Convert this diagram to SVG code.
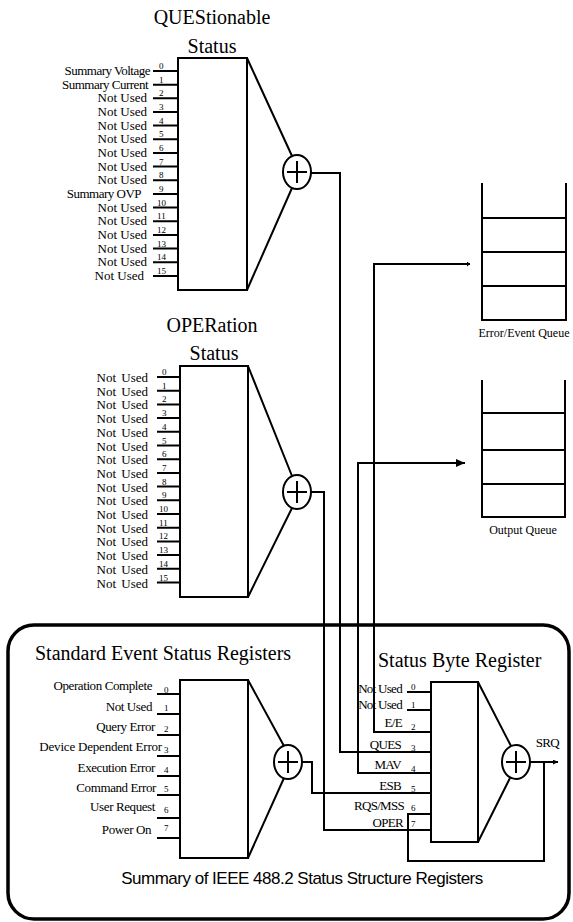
<svg xmlns="http://www.w3.org/2000/svg" width="573" height="922" viewBox="0 0 573 922">
<style>
.ln{stroke:#000;stroke-width:2;fill:none}
.bd{stroke:#000;stroke-width:3.5;fill:none}
.t{font-family:"Liberation Serif","Times New Roman",serif;fill:#000}
.ttl{font-size:20px}
.lb{font-size:13px;text-anchor:end}
.lbc{font-size:13px;text-anchor:end;letter-spacing:-0.5px}
.sb{font-size:13px;text-anchor:end;letter-spacing:-0.7px}
.n{font-size:9px}
.q{font-size:12px;text-anchor:middle}
.sum{font-family:"Liberation Sans",Arial,sans-serif;font-size:17px;letter-spacing:-0.5px;text-anchor:middle;fill:#000}
</style>
<defs>
<marker id="ah" markerUnits="userSpaceOnUse" markerWidth="9" markerHeight="8" refX="9" refY="4" orient="auto"><path d="M0,0 L9,4 L0,8 z" fill="#000"/></marker>
<marker id="ahs" markerUnits="userSpaceOnUse" markerWidth="5" markerHeight="5" refX="5" refY="2.5" orient="auto"><path d="M0,0 L5,2.5 L0,5 z" fill="#000"/></marker>
<marker id="aht" markerUnits="userSpaceOnUse" markerWidth="3" markerHeight="5" refX="3" refY="2.5" orient="auto"><path d="M0,0 L3,2.5 L0,5 z" fill="#000"/></marker>
</defs>

<g id="border">
<rect class="bd" x="8" y="625" width="561" height="294" rx="26"/>
</g>

<g id="ques">
<text class="t ttl" x="212" y="24" text-anchor="middle">QUEStionable</text>
<text class="t ttl" x="212" y="53" text-anchor="middle">Status</text>
<rect class="ln" x="178" y="58" width="69" height="232"/>
<path class="ln" d="M153,71H178M153,84.7H178M153,98.3H178M153,112H178M153,125.6H178M153,139.3H178M153,153H178M153,166.6H178M153,180.3H178M153,194H178M153,207.6H178M153,221.3H178M153,235H178M153,248.6H178M153,262.2H178M153,275.9H178"/>
<path class="ln" d="M247,58L292,156M247,290L292,188"/>
<ellipse class="ln" cx="297" cy="172" rx="14" ry="17"/>
<path class="ln" d="M287,172H307M297,161V183"/>
<text class="t lbc" x="150" y="75">Summary Voltage</text>
<text class="t lbc" x="148" y="88.7">Summary Current</text>
<text class="t lb" x="147" y="102.3">Not Used</text>
<text class="t lb" x="147" y="116">Not Used</text>
<text class="t lb" x="147" y="129.6">Not Used</text>
<text class="t lb" x="147" y="143.3">Not Used</text>
<text class="t lb" x="147" y="157">Not Used</text>
<text class="t lb" x="147" y="170.6">Not Used</text>
<text class="t lb" x="147" y="184.3">Not Used</text>
<text class="t lbc" x="141" y="197.5">Summary OVP</text>
<text class="t lb" x="147" y="211.8">Not Used</text>
<text class="t lb" x="147" y="225.3">Not Used</text>
<text class="t lb" x="147" y="239">Not Used</text>
<text class="t lb" x="147" y="252.6">Not Used</text>
<text class="t lb" x="147" y="266.2">Not Used</text>
<text class="t lb" x="144" y="279.9">Not Used</text>
<text class="t n" x="159" y="69">0</text>
<text class="t n" x="159" y="82.7">1</text>
<text class="t n" x="159" y="96.3">2</text>
<text class="t n" x="159" y="110">3</text>
<text class="t n" x="159" y="123.6">4</text>
<text class="t n" x="159" y="137.3">5</text>
<text class="t n" x="159" y="151">6</text>
<text class="t n" x="159" y="164.6">7</text>
<text class="t n" x="159" y="178.3">8</text>
<text class="t n" x="159" y="192">9</text>
<text class="t n" x="157" y="205.6">10</text>
<text class="t n" x="157" y="219.3">11</text>
<text class="t n" x="157" y="233">12</text>
<text class="t n" x="157" y="246.6">13</text>
<text class="t n" x="157" y="260.2">14</text>
<text class="t n" x="157" y="273.9">15</text>
</g>

<g id="oper">
<text class="t ttl" x="212" y="332" text-anchor="middle">OPERation</text>
<text class="t ttl" x="214" y="360" text-anchor="middle">Status</text>
<rect class="ln" x="180" y="366" width="68" height="231"/>
<path class="ln" d="M157,377H180M157,390.7H180M157,404.4H180M157,418.1H180M157,431.8H180M157,445.5H180M157,459.2H180M157,472.9H180M157,486.6H180M157,500.3H180M157,514H180M157,527.7H180M157,541.4H180M157,555.1H180M157,568.8H180M157,582.5H180"/>
<path class="ln" d="M248,366L292,476M248,597L292,508"/>
<ellipse class="ln" cx="297" cy="492" rx="14" ry="17"/>
<path class="ln" d="M287,492H307M297,481V503"/>
<g class="t lb" word-spacing="2">
<text x="148" y="382">Not Used</text>
<text x="148" y="395.7">Not Used</text>
<text x="148" y="409.4">Not Used</text>
<text x="148" y="423.1">Not Used</text>
<text x="148" y="436.8">Not Used</text>
<text x="148" y="450.5">Not Used</text>
<text x="148" y="464.2">Not Used</text>
<text x="148" y="477.9">Not Used</text>
<text x="148" y="491.6">Not Used</text>
<text x="148" y="505.3">Not Used</text>
<text x="148" y="519">Not Used</text>
<text x="148" y="532.7">Not Used</text>
<text x="148" y="546.4">Not Used</text>
<text x="148" y="560.1">Not Used</text>
<text x="148" y="573.8">Not Used</text>
<text x="148" y="587.5">Not Used</text>
</g>
<g class="t n">
<text x="162" y="375">0</text>
<text x="162" y="388.7">1</text>
<text x="162" y="402.4">2</text>
<text x="162" y="416.1">3</text>
<text x="162" y="429.8">4</text>
<text x="162" y="443.5">5</text>
<text x="162" y="457.2">6</text>
<text x="162" y="470.9">7</text>
<text x="162" y="484.6">8</text>
<text x="162" y="498.3">9</text>
<text x="159" y="512">10</text>
<text x="159" y="525.7">11</text>
<text x="159" y="539.4">12</text>
<text x="159" y="553.1">13</text>
<text x="159" y="566.8">14</text>
<text x="159" y="580.5">15</text>
</g>
</g>

<g id="error-queue">
<path class="ln" d="M482,183V320H566V183M482,218H566M482,252H566M482,286H566"/>
<text class="t q" x="524" y="337">Error/Event Queue</text>
</g>

<g id="output-queue">
<path class="ln" d="M482,380V517H565V380M482,413H565M482,450H565M482,484H565"/>
<text class="t q" x="523" y="534">Output Queue</text>
</g>

<g id="std-event">
<text class="t ttl" x="35" y="660">Standard Event Status Registers</text>
<rect class="ln" x="180" y="680" width="68" height="178"/>
<path class="ln" d="M157,694H180M157,714H180M157,735H180M157,756H180M157,776H180M157,795H180M157,818H180M157,838H180"/>
<path class="ln" d="M248,680L284,746M248,858L284,778"/>
<ellipse class="ln" cx="288" cy="762" rx="14" ry="17"/>
<path class="ln" d="M278,762H298M288,751V773"/>
<g class="t lb" letter-spacing="-0.4">
<text x="152" y="690">Operation Complete</text>
<text x="152" y="711">Not Used</text>
<text x="155" y="731">Query Error</text>
<text x="162" y="751" letter-spacing="-0.2">Device Dependent Error</text>
<text x="155" y="772">Execution Error</text>
<text x="156" y="792">Command Error</text>
<text x="155" y="811">User Request</text>
<text x="151" y="834">Power On</text>
</g>
<g class="t n">
<text x="164" y="693">0</text>
<text x="164" y="711">1</text>
<text x="164" y="732">2</text>
<text x="164" y="753">3</text>
<text x="164" y="773">4</text>
<text x="164" y="792">5</text>
<text x="164" y="813">6</text>
<text x="164" y="831">7</text>
</g>
</g>

<g id="status-byte">
<text class="t ttl" x="378" y="667">Status Byte Register</text>
<rect class="ln" x="431" y="682" width="47" height="160"/>
<path class="ln" d="M407,692H431M407,710H431"/>
<path class="ln" d="M478,682L511,746M478,842L510,778"/>
<ellipse class="ln" cx="516" cy="762" rx="14" ry="17"/>
<path class="ln" d="M506,762H526M516,751V773"/>
<text class="t sb" x="402" y="693">Not Used</text>
<text class="t sb" x="402" y="709">Not Used</text>
<text class="t sb" x="402" y="727">E/E</text>
<text class="t sb" x="401" y="749">QUES</text>
<text class="t sb" x="401" y="769">MAV</text>
<text class="t sb" x="401" y="790">ESB</text>
<text class="t sb" x="404" y="810">RQS/MSS</text>
<text class="t sb" x="403" y="827">OPER</text>
<g class="t n">
<text x="411" y="690">0</text>
<text x="411" y="708">1</text>
<text x="411" y="730">2</text>
<text x="411" y="751">3</text>
<text x="411" y="772">4</text>
<text x="411" y="792">5</text>
<text x="411" y="811">6</text>
<text x="411" y="827">7</text>
</g>
<text class="t sb" x="559" y="747">SRQ</text>
</g>

<g id="connectors">
<path class="ln" d="M311,173H340V752H431"/>
<path class="ln" d="M311,492H324V830H431"/>
<path class="ln" d="M302,762H312V793H431"/>
<path class="ln" d="M431,732H374V264H470" marker-end="url(#aht)"/>
<path class="ln" d="M431,773H358V463H465" marker-end="url(#ah)"/>
<path class="ln" d="M431,814H408V861H544V762"/>
<path class="ln" d="M530,762H558" marker-end="url(#ahs)"/>
</g>

<text class="sum" x="302" y="884">Summary of IEEE 488.2 Status Structure Registers</text>
</svg>
